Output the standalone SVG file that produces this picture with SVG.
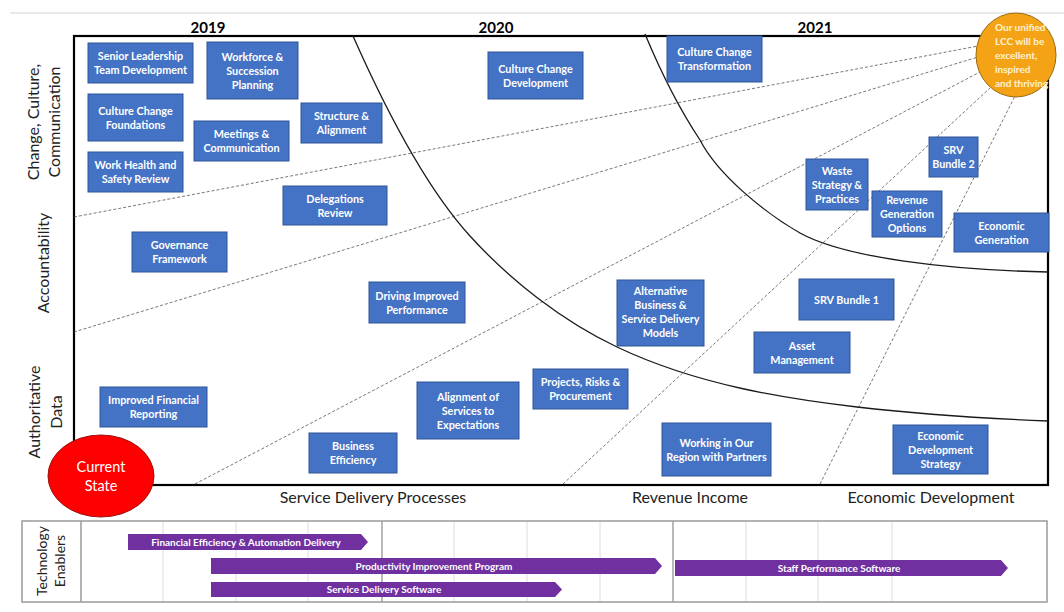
<svg xmlns="http://www.w3.org/2000/svg" width="1064" height="612" viewBox="0 0 1064 612">
  <style>
    .box rect { fill: #4472c4; stroke: #2f5597; stroke-width: 1; }
    .box text { fill: #ffffff; font-family: Lato, "Liberation Sans", sans-serif; font-weight: bold; font-size: 10.8px; text-anchor: middle; }
    .year { font-family: Lato, "Liberation Sans", sans-serif; font-weight: bold; font-size: 15px; text-anchor: middle; fill: #000; }
    .axis { font-family: Lato, "Liberation Sans", sans-serif; font-size: 16px; text-anchor: middle; fill: #222; }
    .side { font-family: Lato, "Liberation Sans", sans-serif; font-size: 16px; text-anchor: middle; fill: #222; }
    .path-line { fill: none; stroke: #555; stroke-width: 0.8; stroke-dasharray: 3 2; }
    .curve { fill: none; stroke: #1a1a1a; stroke-width: 1.3; }
    .grid { stroke: #dedede; stroke-width: 1; }
    .grid-major { stroke: #8a8a8a; stroke-width: 1.2; }
    .bar { fill: #7030a0; }
    .bar-label { fill: #ffffff; font-family: Lato, "Liberation Sans", sans-serif; font-weight: bold; font-size: 10px; text-anchor: middle; }
    .band-label { font-family: Lato, "Liberation Sans", sans-serif; font-size: 14px; text-anchor: middle; fill: #222; }
  </style>

  <rect width="1064" height="612" fill="#ffffff"/>

  <!-- header rule -->
  <line x1="10" y1="13" x2="1064" y2="13" stroke="#d4d4d4" stroke-width="1"/>

  <!-- year headings -->
  <text class="year" x="208" y="33">2019</text>
  <text class="year" x="496" y="33">2020</text>
  <text class="year" x="815" y="33">2021</text>

  <!-- vertical axis themes -->
  <g id="side-labels">
    <text class="side" transform="translate(39,122) rotate(-90)">Change, Culture,</text>
    <text class="side" transform="translate(60,122) rotate(-90)">Communication</text>
    <text class="side" transform="translate(49,263) rotate(-90)">Accountability</text>
    <text class="side" transform="translate(40,412) rotate(-90)">Authoritative</text>
    <text class="side" transform="translate(62,412) rotate(-90)">Data</text>
  </g>

  <!-- main frame -->
  <rect x="74" y="36" width="974" height="449" fill="none" stroke="#000" stroke-width="2.2"/>

  <!-- guide lines and phase curves -->
  <g id="connectors">
    <line class="path-line" x1="74" y1="217" x2="978" y2="46"/>
    <line class="path-line" x1="74" y1="332" x2="978" y2="57"/>
    <line class="path-line" x1="195" y1="484" x2="980" y2="72"/>
    <line class="path-line" x1="563" y1="484" x2="990" y2="88"/>
    <line class="path-line" x1="820" y1="484" x2="1016" y2="94"/>
    <path class="curve" d="M353,36 C388,115 428,190 470,236 C510,280 562,321 617,347 C697,385 787,399 857,407 C917,414 1000,419 1048,421"/>
    <path class="curve" d="M645,34 C660,70 680,110 700,140 C718,175 765,213 800,233 C845,258 950,270 1048,272"/>
  </g>

  <!-- 2019 initiatives -->
  <g id="senior-leadership" class="box">
    <rect x="88" y="43" width="105" height="40"/>
    <text x="140.5" y="60">Senior Leadership</text>
    <text x="140.5" y="74">Team Development</text>
  </g>
  <g id="workforce" class="box">
    <rect x="207" y="42" width="91" height="57"/>
    <text x="252.5" y="60.5">Workforce &amp;</text>
    <text x="252.5" y="74.5">Succession</text>
    <text x="252.5" y="88.5">Planning</text>
  </g>
  <g id="culture-foundations" class="box">
    <rect x="88" y="94" width="95" height="47"/>
    <text x="135.5" y="114.5">Culture Change</text>
    <text x="135.5" y="128.5">Foundations</text>
  </g>
  <g id="meetings" class="box">
    <rect x="194" y="121" width="95" height="40"/>
    <text x="241.5" y="138">Meetings &amp;</text>
    <text x="241.5" y="152">Communication</text>
  </g>
  <g id="work-health" class="box">
    <rect x="88" y="152" width="95" height="40"/>
    <text x="135.5" y="169">Work Health and</text>
    <text x="135.5" y="183">Safety Review</text>
  </g>
  <g id="structure" class="box">
    <rect x="301" y="103" width="81" height="40"/>
    <text x="341.5" y="120">Structure &amp;</text>
    <text x="341.5" y="134">Alignment</text>
  </g>
  <g id="delegations" class="box">
    <rect x="283" y="186" width="104" height="39"/>
    <text x="335" y="202.5">Delegations</text>
    <text x="335" y="216.5">Review</text>
  </g>
  <g id="governance" class="box">
    <rect x="132" y="232" width="95" height="40"/>
    <text x="179.5" y="249">Governance</text>
    <text x="179.5" y="263">Framework</text>
  </g>
  <g id="financial-reporting" class="box">
    <rect x="100" y="387" width="107" height="40"/>
    <text x="153.5" y="404">Improved Financial</text>
    <text x="153.5" y="418">Reporting</text>
  </g>
  <g id="business-efficiency" class="box">
    <rect x="309" y="433" width="88" height="40"/>
    <text x="353" y="450">Business</text>
    <text x="353" y="464">Efficiency</text>
  </g>

  <!-- 2020 initiatives -->
  <g id="culture-development" class="box">
    <rect x="488" y="52" width="95" height="47"/>
    <text x="535.5" y="72.5">Culture Change</text>
    <text x="535.5" y="86.5">Development</text>
  </g>
  <g id="driving-performance" class="box">
    <rect x="369" y="282" width="96" height="41"/>
    <text x="417" y="299.5">Driving Improved</text>
    <text x="417" y="313.5">Performance</text>
  </g>
  <g id="alignment-services" class="box">
    <rect x="417" y="382" width="102" height="57"/>
    <text x="468" y="400.5">Alignment of</text>
    <text x="468" y="414.5">Services to</text>
    <text x="468" y="428.5">Expectations</text>
  </g>
  <g id="projects" class="box">
    <rect x="533" y="369" width="95" height="40"/>
    <text x="580.5" y="386">Projects, Risks &amp;</text>
    <text x="580.5" y="400">Procurement</text>
  </g>
  <g id="alternative-models" class="box">
    <rect x="617" y="280" width="87" height="66"/>
    <text x="660.5" y="295">Alternative</text>
    <text x="660.5" y="309">Business &amp;</text>
    <text x="660.5" y="323">Service Delivery</text>
    <text x="660.5" y="337">Models</text>
  </g>
  <g id="working-region" class="box">
    <rect x="662" y="423" width="109" height="53"/>
    <text x="716.5" y="446.5">Working in Our</text>
    <text x="716.5" y="460.5">Region with Partners</text>
  </g>

  <!-- 2021 initiatives -->
  <g id="culture-transformation" class="box">
    <rect x="667" y="36" width="95" height="46"/>
    <text x="714.5" y="56">Culture Change</text>
    <text x="714.5" y="70">Transformation</text>
  </g>
  <g id="waste-strategy" class="box">
    <rect x="806" y="159" width="62" height="51"/>
    <text x="837" y="174.5">Waste</text>
    <text x="837" y="188.5">Strategy &amp;</text>
    <text x="837" y="202.5">Practices</text>
  </g>
  <g id="srv-bundle-2" class="box">
    <rect x="929" y="137" width="49" height="40"/>
    <text x="953.5" y="154">SRV</text>
    <text x="953.5" y="168">Bundle 2</text>
  </g>
  <g id="revenue-options" class="box">
    <rect x="872" y="191" width="70" height="46"/>
    <text x="907" y="204">Revenue</text>
    <text x="907" y="218">Generation</text>
    <text x="907" y="232">Options</text>
  </g>
  <g id="economic-generation" class="box">
    <rect x="954" y="213" width="95" height="39"/>
    <text x="1001.5" y="229.5">Economic</text>
    <text x="1001.5" y="243.5">Generation</text>
  </g>
  <g id="srv-bundle-1" class="box">
    <rect x="799" y="279" width="95" height="41"/>
    <text x="846.5" y="303.5">SRV Bundle 1</text>
  </g>
  <g id="asset-management" class="box">
    <rect x="754" y="332" width="96" height="41"/>
    <text x="802" y="349.5">Asset</text>
    <text x="802" y="363.5">Management</text>
  </g>
  <g id="economic-strategy" class="box">
    <rect x="893" y="425" width="95" height="49"/>
    <text x="940.5" y="439.5">Economic</text>
    <text x="940.5" y="453.5">Development</text>
    <text x="940.5" y="467.5">Strategy</text>
  </g>

  <!-- start and end states -->
  <g id="current-state">
    <ellipse cx="101" cy="476" rx="53" ry="41" fill="#ff0000" stroke="#9c1010" stroke-width="1"/>
    <text x="101" y="472" font-family="Lato, 'Liberation Sans', sans-serif" font-size="14.5px" fill="#ffffff" text-anchor="middle">Current</text>
    <text x="101" y="491" font-family="Lato, 'Liberation Sans', sans-serif" font-size="14.5px" fill="#ffffff" text-anchor="middle">State</text>
  </g>
  <g id="future-state">
    <ellipse cx="1016" cy="55" rx="40" ry="42" fill="#f5a316" stroke="#9a6a10" stroke-width="1"/>
    <g font-family="Lato, 'Liberation Sans', sans-serif" font-weight="bold" font-size="10px" fill="#fff3d2">
      <text x="995" y="31">Our unified</text>
      <text x="995" y="45">LCC will be</text>
      <text x="995" y="59">excellent,</text>
      <text x="995" y="73">inspired</text>
      <text x="995" y="87">and thriving</text>
    </g>
  </g>

  <!-- horizontal axis themes -->
  <g id="axis-labels">
    <text class="axis" x="373" y="503">Service Delivery Processes</text>
    <text class="axis" x="690" y="503">Revenue Income</text>
    <text class="axis" x="931" y="503">Economic Development</text>
  </g>

  <!-- technology enablers timeline -->
  <g id="technology-enablers">
    <line class="grid" x1="163" y1="521" x2="163" y2="602"/>
    <line class="grid" x1="236" y1="521" x2="236" y2="602"/>
    <line class="grid" x1="308" y1="521" x2="308" y2="602"/>
    <line class="grid" x1="454" y1="521" x2="454" y2="602"/>
    <line class="grid" x1="527" y1="521" x2="527" y2="602"/>
    <line class="grid" x1="600" y1="521" x2="600" y2="602"/>
    <line class="grid" x1="746" y1="521" x2="746" y2="602"/>
    <line class="grid" x1="818" y1="521" x2="818" y2="602"/>
    <line class="grid" x1="892" y1="521" x2="892" y2="602"/>
    <line class="grid-major" x1="382" y1="521" x2="382" y2="602"/>
    <line class="grid-major" x1="673" y1="521" x2="673" y2="602"/>
    <rect x="22" y="521" width="1025" height="81" fill="none" stroke="#9a9a9a" stroke-width="1.5"/>
    <line x1="81" y1="521" x2="81" y2="602" stroke="#9a9a9a" stroke-width="1.5"/>
    <text class="band-label" transform="translate(47,561) rotate(-90)">Technology</text>
    <text class="band-label" transform="translate(65,561) rotate(-90)">Enablers</text>
  </g>
  <g id="financial-efficiency">
    <polygon class="bar" points="128,534 361,534 368,542 361,550 128,550"/>
    <text class="bar-label" x="246" y="545.5">Financial Efficiency &amp; Automation Delivery</text>
  </g>
  <g id="productivity-program">
    <polygon class="bar" points="211,558 655,558 662,566 655,574 211,574"/>
    <text class="bar-label" x="434" y="569.5">Productivity Improvement Program</text>
  </g>
  <g id="service-delivery-software">
    <polygon class="bar" points="211,582 555,582 562,589.5 555,597 211,597"/>
    <text class="bar-label" x="384" y="593">Service Delivery Software</text>
  </g>
  <g id="staff-performance">
    <polygon class="bar" points="675,560 1001,560 1008,568 1001,576 675,576"/>
    <text class="bar-label" x="839" y="571.5">Staff Performance Software</text>
  </g>
</svg>
